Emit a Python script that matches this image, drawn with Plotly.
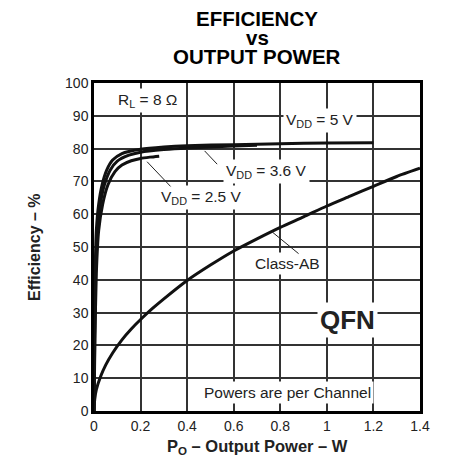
import plotly.graph_objects as go

# efficiency curves (P in W, efficiency in %)
p_5v = [0, 0.002, 0.005, 0.01, 0.02, 0.035, 0.055, 0.08, 0.12, 0.2, 0.3, 0.4, 0.6, 0.8, 1.0, 1.2]
eff_5v = [0, 22, 42, 55, 63, 69, 73.5, 76.5, 78.5, 79.8, 80.5, 80.9, 81.2, 81.5, 81.7, 81.8]

p_36v = [0, 0.003, 0.007, 0.014, 0.027, 0.045, 0.07, 0.1, 0.15, 0.2, 0.3, 0.4, 0.5, 0.6, 0.7]
eff_36v = [0, 22, 42, 55, 63, 69, 73.5, 76.2, 78, 78.9, 79.7, 80.2, 80.5, 80.8, 81]

p_25v = [0, 0.004, 0.01, 0.02, 0.037, 0.06, 0.09, 0.12, 0.16, 0.2, 0.24, 0.28]
eff_25v = [0, 22, 42, 55, 63, 69, 73, 75, 76.3, 77, 77.4, 77.7]

p_ab = [0, 0.003, 0.01, 0.03, 0.05, 0.08, 0.12, 0.16, 0.2, 0.25, 0.3, 0.4, 0.5, 0.6, 0.7, 0.8, 0.9, 1.0, 1.1, 1.2, 1.3, 1.4]
eff_ab = [0, 3.5, 6.5, 10.8, 14, 17.7, 21.7, 25, 27.9, 31.2, 34.2, 39.8, 44.5, 48.8, 52.5, 56, 59.2, 62.5, 65.5, 68.5, 71.5, 74]

x_ticks = [0, 0.2, 0.4, 0.6, 0.8, 1, 1.2, 1.4]
x_labels = ['0', '0.2', '0.4', '0.6', '0.8', '1', '1.2', '1.4']
y_ticks = [0, 10, 20, 30, 40, 50, 60, 70, 80, 90, 100]

FONT = "Liberation Sans, Arial, sans-serif"

fig = go.Figure()
for px_, py_ in [(p_ab, eff_ab), (p_25v, eff_25v), (p_36v, eff_36v), (p_5v, eff_5v)]:
    fig.add_trace(go.Scatter(
        x=px_, y=py_, mode='lines',
        line=dict(color='#111111', width=3, shape='spline', smoothing=0.6),
        showlegend=False, hoverinfo='skip'
    ))


def label(text, x, y, size=15.5, bold=False):
    if bold:
        text = '<b>' + text + '</b>'
    fig.add_annotation(x=x, y=y, text=text, showarrow=False,
                       bgcolor='white', borderpad=2,
                       font=dict(family=FONT, size=size, color='#222222'))


def leader(x0, y0, x1, y1):
    fig.add_annotation(x=x1, y=y1, ax=x0, ay=y0, axref='x', ayref='y',
                       text='', showarrow=True, arrowhead=0, arrowwidth=1,
                       arrowcolor='#222222', standoff=0, startstandoff=0)


label('R<sub>L</sub> = 8 Ω', 0.23, 94.8)
label('V<sub>DD</sub> = 5 V', 0.97, 88.7)
label('V<sub>DD</sub> = 3.6 V', 0.74, 72.9)
label('V<sub>DD</sub> = 2.5 V', 0.46, 65.2)
label('Class-AB', 0.83, 45)
label('QFN', 1.09, 27.7, size=26, bold=True)
label('Powers are per Channel', 0.83, 5.5)

leader(0.535, 74.8, 0.475, 79.3)
leader(0.335, 68.0, 0.228, 76.0)
leader(0.885, 47.6, 0.765, 54.6)

# title, one line per annotation (shift measured up from the plot top)
for txt, shift in [('EFFICIENCY', 65), ('vs', 46), ('OUTPUT POWER', 27)]:
    fig.add_annotation(xref='paper', yref='paper', x=0.5, y=1, yanchor='middle',
                       yshift=shift, text='<b>' + txt + '</b>', showarrow=False,
                       font=dict(family=FONT, size=20.5, color='black'))

# the page body has an 8px margin, so the figure is 8px smaller
fig.update_layout(
    width=445, height=455,
    margin=dict(l=86, r=33, t=75, b=52),
    plot_bgcolor='white', paper_bgcolor='white',
    font=dict(family=FONT, size=14, color='#222222'),
    xaxis=dict(range=[0, 1.4], tickvals=x_ticks, ticktext=x_labels,
               showgrid=True, gridcolor='#333333', gridwidth=1.5,
               showline=True, linecolor='black', linewidth=2.5, mirror=True,
               zeroline=False, ticks=''),
    yaxis=dict(range=[0, 100], tickvals=y_ticks,
               showgrid=True, gridcolor='#333333', gridwidth=1.5,
               showline=True, linecolor='black', linewidth=2.5, mirror=True,
               zeroline=False, ticks=''),
)

# axis titles placed by hand
fig.add_annotation(xref='paper', yref='paper', x=0.5, y=0, yanchor='middle', yshift=-36,
                   text='<b>P<sub>O</sub> – Output Power – W</b>', showarrow=False,
                   font=dict(family=FONT, size=16.5, color='#222222'))
fig.add_annotation(xref='paper', yref='paper', x=0, y=0.5, xanchor='center', xshift=-60,
                   text='<b>Efficiency – %</b>', showarrow=False, textangle=-90,
                   font=dict(family=FONT, size=16, color='#222222'))

fig.write_html("out.html")
